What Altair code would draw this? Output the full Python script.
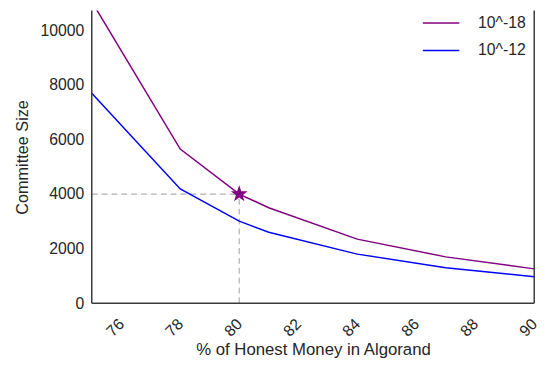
import altair as alt
import pandas as pd

honest = [75, 78, 80, 81, 84, 87, 90]
size_18 = [11050, 5650, 4000, 3500, 2350, 1700, 1260]
size_12 = [7690, 4190, 3010, 2600, 1800, 1300, 975]
series = ["10^-18", "10^-12"]
colors = ["purple", "blue"]
star_x = [80]
star_y = [4000]
x_ticks = [76, 78, 80, 82, 84, 86, 88, 90]
y_ticks = [0, 2000, 4000, 6000, 8000, 10000]

rows = []
for name, vals in zip(series, [size_18, size_12]):
    for x, y in zip(honest, vals):
        rows.append({"honest": x, "size": y, "series": name})
df = pd.DataFrame(rows)

star = pd.DataFrame({"honest": star_x, "size": star_y})
guide_h = pd.DataFrame({"honest": [75], "honest2": star_x, "size": star_y})
guide_v = pd.DataFrame({"honest": star_x, "size": [0], "size2": star_y})

W, H = 449, 297
FONT = "Liberation Sans"
TXT = "#262626"
FRAME = "#3a3a3a"
xscale = alt.Scale(domain=[75, 90], nice=False, zero=False)
yscale = alt.Scale(domain=[0, 10720], nice=False)

xaxis = alt.Axis(values=x_ticks, title="% of Honest Money in Algorand", labelAngle=-45,
                 labelAlign="right", labelBaseline="middle", labelPadding=18,
                 ticks=False, grid=False, domain=False, labelFontSize=16, format="d",
                 titleFontSize=17, titleFontWeight="normal", titlePadding=3,
                 labelColor=TXT, titleColor=TXT, labelFont=FONT, titleFont=FONT)
yaxis = alt.Axis(values=y_ticks, title="Committee Size", ticks=False, grid=False, format="d",
                 domain=False, labelFontSize=16, titleFontSize=16.5, titleFontWeight="normal",
                 labelPadding=8, titlePadding=10, labelColor=TXT, titleColor=TXT,
                 labelFont=FONT, titleFont=FONT)

lines = alt.Chart(df).mark_line(strokeWidth=1.5, clip=True).encode(
    x=alt.X("honest:Q", scale=xscale, axis=xaxis),
    y=alt.Y("size:Q", scale=yscale, axis=yaxis),
    color=alt.Color("series:N", scale=alt.Scale(domain=series, range=colors),
                    sort=series,
                    legend=alt.Legend(title=None, orient="none", legendX=335, legendY=-7,
                                      symbolType="stroke", symbolSize=1369,
                                      symbolStrokeWidth=1.5, labelFontSize=16,
                                      labelFont=FONT, labelColor=TXT,
                                      rowPadding=-13, labelOffset=18)),
)

hline = alt.Chart(guide_h).mark_rule(strokeDash=[6, 4], color="#b0b0b0", strokeWidth=1.2).encode(
    x="honest:Q", x2="honest2:Q", y="size:Q")
vline = alt.Chart(guide_v).mark_rule(strokeDash=[6, 4], color="#b0b0b0", strokeWidth=1.2).encode(
    x="honest:Q", y="size:Q", y2="size2:Q")

star_mark = alt.Chart(star).mark_point(
    shape="M0,-1L0.235,-0.324L0.951,-0.309L0.38,0.124L0.588,0.809L0,0.4L-0.588,0.809L-0.38,0.124L-0.951,-0.309L-0.235,-0.324Z",
    filled=True, color="purple", size=320, opacity=1).encode(
    x="honest:Q", y="size:Q")

# plot frame: left, right and bottom edges (top edge lies outside the visible page)
frame_left = alt.Chart(star).mark_rule(color=FRAME, strokeWidth=1.5).encode(
    x=alt.value(0), y=alt.value(0), y2=alt.value(H))
frame_right = alt.Chart(star).mark_rule(color=FRAME, strokeWidth=1.5).encode(
    x=alt.value(W), y=alt.value(0), y2=alt.value(H))
frame_bottom = alt.Chart(star).mark_rule(color=FRAME, strokeWidth=1.5).encode(
    x=alt.value(0), x2=alt.value(W), y=alt.value(H))

chart = alt.layer(hline, vline, lines, star_mark, frame_left, frame_right, frame_bottom).properties(
    width=W, height=H,
    background="white",
    autosize=alt.AutoSizeParams(type="none"),
    padding={"left": 85, "top": 0, "right": 14, "bottom": 60},
).configure_view(stroke=None)

chart.save("out.html", embed_options={"renderer": "svg", "actions": False})
